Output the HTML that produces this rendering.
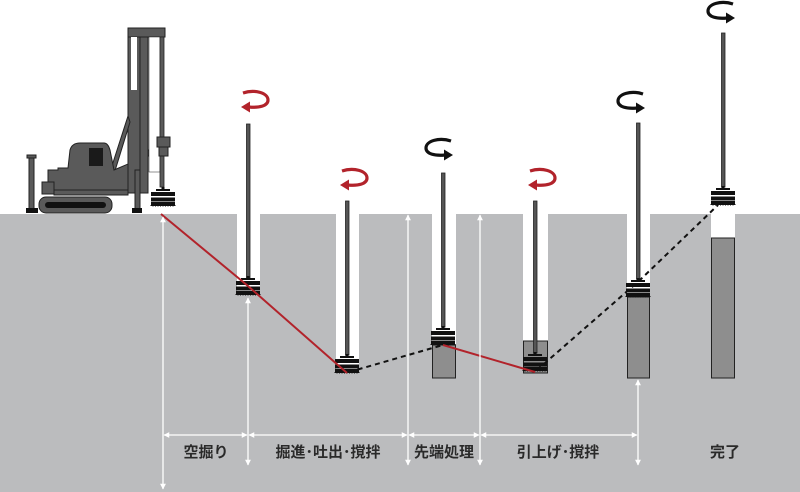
<!DOCTYPE html>
<html><head><meta charset="utf-8"><style>
html,body{margin:0;padding:0;background:#fff;}
svg{display:block;}
text{font-family:"Liberation Sans","Noto Sans CJK JP",sans-serif;font-weight:bold;font-size:15px;fill:#2a2a2a;}
</style></head><body>
<svg width="800" height="492" viewBox="0 0 800 492" xmlns="http://www.w3.org/2000/svg">
<defs>
<g id="aug">
  <rect x="-1.5" y="0" width="3" height="4" fill="#111"/>
  <rect x="-7" y="2" width="14" height="2" fill="#111"/>
  <rect x="-12" y="5" width="24" height="4" fill="#111"/>
  <rect x="-12" y="10.5" width="24" height="4" fill="#111"/>
  <rect x="-12" y="15" width="24" height="2" fill="#111"/>
  <path d="M-12 17 L12 17 L12 19 L-12 19 Z" fill="#111" stroke="#111" stroke-dasharray="1 1.5" stroke-width="1"/>
</g>
<g id="rotR">
  <path d="M-10 -7 C2 -11 15 -7 15 0 C15 6 6 8 -4 7" fill="none" stroke="#b2232b" stroke-width="3.2"/>
  <path d="M-12 7 L-3 1.5 L-3 12.5 Z" fill="#b2232b"/>
</g>
<g id="rotB">
  <path d="M10 -7 C-2 -11 -15 -7 -15 0 C-15 6 -6 8 4 7" fill="none" stroke="#111" stroke-width="3.2"/>
  <path d="M12 7 L3 1.5 L3 12.5 Z" fill="#111"/>
</g>
<marker id="ah" viewBox="0 0 10 10" refX="9" refY="5" markerWidth="4.5" markerHeight="4.5" orient="auto-start-reverse"><path d="M0 0 L10 5 L0 10 Z" fill="#fff"/></marker>
</defs>

<rect x="0" y="214" width="800" height="278" fill="#bbbcbe"/>
<rect x="237" y="214" width="23" height="81" fill="#fff"/>
<rect x="336" y="214" width="23" height="159" fill="#fff"/>
<rect x="432" y="214" width="24" height="131" fill="#fff"/>
<rect x="523" y="214" width="25" height="127" fill="#fff"/>
<rect x="627" y="214" width="23" height="83" fill="#fff"/>
<rect x="711" y="214" width="24" height="24" fill="#fff"/>
<rect x="432.5" y="345" width="23" height="33" fill="#8e8e8e" stroke="#222" stroke-width="1"/>
<rect x="523.5" y="341" width="24" height="32" fill="#8e8e8e" stroke="#222" stroke-width="1"/>
<rect x="627.5" y="297" width="22" height="81" fill="#8e8e8e" stroke="#222" stroke-width="1"/>
<rect x="711.5" y="238" width="23" height="140" fill="#8e8e8e" stroke="#222" stroke-width="1"/>

<g fill="#555" stroke="#222" stroke-width="0.8">
<rect x="246.5" y="124" width="3.5" height="154"/>
<rect x="345.5" y="201" width="3.5" height="154"/>
<rect x="441.5" y="173" width="3.5" height="154"/>
<rect x="533.5" y="201" width="3.5" height="152"/>
<rect x="636.5" y="123" width="3.5" height="156"/>
<rect x="721.5" y="33" width="3.5" height="154"/>
</g>
<use href="#aug" x="248" y="276"/>
<use href="#aug" x="347" y="354"/>
<use href="#aug" x="443" y="326"/>
<use href="#aug" x="535" y="352"/>
<use href="#aug" x="638" y="278"/>
<use href="#aug" x="723" y="186"/>

<use href="#rotR" x="253" y="100"/>
<use href="#rotR" x="352" y="178"/>
<use href="#rotR" x="540" y="178"/>
<use href="#rotB" x="441" y="148"/>
<use href="#rotB" x="633" y="101"/>
<use href="#rotB" x="723" y="11"/>

<polyline points="161,214 248,286 347,373" fill="none" stroke="#b2232b" stroke-width="2"/>
<line x1="443" y1="345" x2="535" y2="372" stroke="#b2232b" stroke-width="2"/>
<line x1="349" y1="372" x2="443" y2="345" stroke="#111" stroke-width="2" stroke-dasharray="5 4"/>
<polyline points="537,370 640,280 718,205" fill="none" stroke="#111" stroke-width="2" stroke-dasharray="5 4"/>

<g stroke="#fff" stroke-width="1.3" fill="none">
<line x1="163" y1="217" x2="163" y2="489" marker-start="url(#ah)" marker-end="url(#ah)"/>
<line x1="248" y1="298" x2="248" y2="465" marker-start="url(#ah)" marker-end="url(#ah)"/>
<line x1="408" y1="215" x2="408" y2="465" marker-start="url(#ah)" marker-end="url(#ah)"/>
<line x1="480" y1="215" x2="480" y2="465" marker-start="url(#ah)" marker-end="url(#ah)"/>
<line x1="638" y1="380" x2="638" y2="465" marker-start="url(#ah)" marker-end="url(#ah)"/>
<line x1="164" y1="435" x2="247" y2="435" marker-start="url(#ah)" marker-end="url(#ah)"/>
<line x1="249" y1="435" x2="407" y2="435" marker-start="url(#ah)" marker-end="url(#ah)"/>
<line x1="409" y1="435" x2="479" y2="435" marker-start="url(#ah)" marker-end="url(#ah)"/>
<line x1="481" y1="435" x2="637" y2="435" marker-start="url(#ah)" marker-end="url(#ah)"/>
</g>
<text x="206" y="457" text-anchor="middle">空掘り</text>
<text x="328" y="457" text-anchor="middle">掘進･吐出･撹拌</text>
<text x="444" y="457" text-anchor="middle">先端処理</text>
<text x="558" y="457" text-anchor="middle">引上げ･撹拌</text>
<text x="725" y="457" text-anchor="middle">完了</text>

<g fill="#5a5a5a" stroke="#222" stroke-width="1">
<rect x="128" y="28" width="12" height="165"/>
<rect x="140" y="28" width="8" height="165"/>
<rect x="128" y="28" width="37" height="9"/>
<path d="M110 172 L128 116 L130 122 L114 174 Z"/>
<rect x="148" y="150" width="12" height="6"/>
<path d="M48 170 L58 170 L58 168 L68 168 L70 150 Q72 143 80 143 L104 143 Q108 143 110 150 L114 170 L128 164 L128 190 L48 190 Z"/>
<rect x="42" y="182" width="12" height="12"/>
<rect x="54" y="190" width="74" height="5"/>
<rect x="39" y="197" width="73" height="16" rx="7"/>
<rect x="29" y="157" width="5" height="53"/>
<rect x="27" y="155" width="9" height="3"/>
<rect x="135" y="170" width="5" height="40"/>
</g>
<rect x="89" y="148" width="14" height="18" fill="#1a1a1a"/>
<rect x="45" y="202" width="61" height="6" rx="3" fill="#111"/>
<rect x="26" y="208" width="12" height="5" fill="#111"/>
<rect x="132" y="208" width="10" height="5" fill="#111"/>
<rect x="131" y="37" width="6" height="53" fill="#fff"/>
<rect x="149" y="37" width="11" height="135" fill="#fff" stroke="#222" stroke-width="0.5"/>
<rect x="160" y="37" width="4" height="150" fill="#5a5a5a" stroke="#222" stroke-width="0.8"/>
<rect x="157" y="137" width="13" height="10" fill="#5a5a5a" stroke="#222" stroke-width="1"/>
<rect x="159" y="147" width="9" height="9" fill="#5a5a5a" stroke="#222" stroke-width="1"/>
<use href="#aug" x="163" y="187"/>
</svg>
</body></html>
